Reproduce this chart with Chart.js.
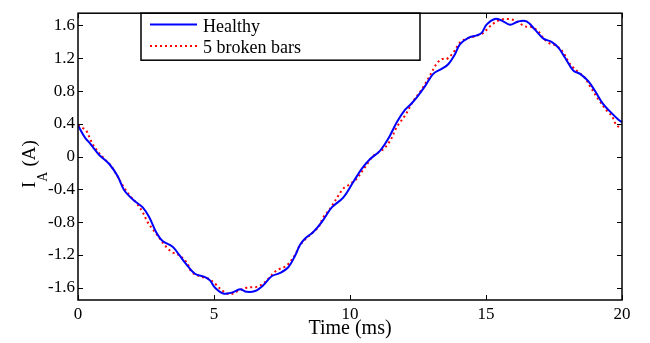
<!DOCTYPE html>
<html>
<head>
<meta charset="utf-8">
<script src="https://cdn.jsdelivr.net/npm/chart.js@4"></script>
<style>
  html, body { margin: 0; padding: 0; background: #fff; }
</style>
</head>
<body>
<canvas id="myChart" width="650" height="343"></canvas>
<script>
// healthy motor current (ms, A)
const timeHealthy = [0.0, 0.26, 0.42, 0.56, 0.78, 1.15, 1.46, 1.70, 2.07, 2.38, 2.62, 2.87, 3.11, 3.48, 3.72, 3.97,
  4.30, 4.67, 4.85, 5.04, 5.34, 5.65, 5.96, 6.20, 6.51, 6.81, 7.12, 7.43, 7.73, 7.98, 8.16, 8.35,
  8.65, 8.96, 9.33, 9.75, 10.12, 10.43, 10.74, 11.10, 11.41, 11.72, 12.02, 12.21, 12.45, 12.76, 13.06, 13.37,
  13.62, 13.86, 14.04, 14.35, 14.66, 14.84, 15.02, 15.33, 15.58, 15.88, 16.19, 16.49, 16.80, 17.11, 17.41,
  17.66, 17.90, 18.21, 18.46, 18.76, 19.01, 19.31, 19.62, 19.87, 20.0];
const currentHealthy = [0.38, 0.23, 0.17, 0.11, 0.02, -0.09, -0.24, -0.41, -0.54, -0.62, -0.74, -0.92, -1.03, -1.10, -1.20, -1.31,
  -1.43, -1.47, -1.51, -1.60, -1.67, -1.66, -1.62, -1.65, -1.64, -1.57, -1.46, -1.42, -1.35, -1.21, -1.08, -1.00,
  -0.92, -0.80, -0.62, -0.50, -0.31, -0.15, -0.03, 0.07, 0.22, 0.42, 0.57, 0.63, 0.72, 0.86, 1.01, 1.07,
  1.13, 1.25, 1.37, 1.45, 1.48, 1.51, 1.61, 1.68, 1.66, 1.61, 1.65, 1.65, 1.55, 1.44, 1.40,
  1.33, 1.21, 1.05, 1.01, 0.92, 0.80, 0.64, 0.53, 0.45, 0.42];

// 5 broken bars current (ms, A)
const timeBroken = [0.0, 0.29, 0.48, 0.66, 1.03, 1.21, 1.40, 1.64, 1.89, 2.13, 2.38, 2.56, 2.87, 3.24, 3.48, 3.60,
  3.85, 4.03, 4.18, 4.55, 4.79, 5.10, 5.28, 5.59, 5.89, 6.20, 6.57, 6.81, 7.00, 7.30, 7.67, 7.98,
  8.16, 8.65, 8.84, 9.02, 9.26, 9.75, 9.94, 10.24, 10.55, 10.86, 11.22, 11.47, 11.72, 12.02, 12.33, 12.64,
  12.94, 13.18, 13.37, 13.55, 13.80, 14.04, 14.29, 14.60, 14.90, 15.15, 15.45, 15.76, 16.07, 16.43, 16.68,
  16.92, 17.05, 17.29, 17.60, 17.84, 18.09, 18.40, 18.64, 18.82, 19.13, 19.44, 19.62, 19.80, 19.93];
const currentBroken = [0.38, 0.32, 0.19, 0.09, -0.05, -0.11, -0.21, -0.35, -0.47, -0.56, -0.68, -0.80, -0.94, -1.10, -1.17, -1.18,
  -1.24, -1.31, -1.41, -1.47, -1.49, -1.57, -1.63, -1.68, -1.64, -1.60, -1.59, -1.55, -1.49, -1.39, -1.33, -1.20,
  -1.08, -0.92, -0.86, -0.74, -0.64, -0.39, -0.35, -0.27, -0.13, 0.01, 0.09, 0.19, 0.36, 0.50, 0.68, 0.82,
  0.99, 1.13, 1.19, 1.19, 1.27, 1.39, 1.44, 1.47, 1.51, 1.59, 1.66, 1.68, 1.66, 1.59, 1.58,
  1.53, 1.47, 1.39, 1.35, 1.27, 1.13, 1.03, 0.96, 0.86, 0.70, 0.56, 0.50, 0.38, 0.36];

const seriesLabels = ['Healthy', '5 broken bars'];
const xTicks = [0, 5, 10, 15, 20];
const yTicks = [-1.6, -1.2, -0.8, -0.4, 0, 0.4, 0.8, 1.2, 1.6];

const serif = "'Liberation Serif', 'Times New Roman', serif";

const toPoints = (xs, ys) => xs.map((t, i) => ({ x: t, y: ys[i] }));

// 축 박스, 안쪽 눈금, 범례, 축 제목
const framePlugin = {
  id: 'frame',
  afterDraw(chart) {
    const { ctx, chartArea: a, scales: { x, y } } = chart;
    ctx.save();
    ctx.strokeStyle = '#000';
    ctx.lineWidth = 1;
    ctx.beginPath();
    xTicks.forEach(v => {
      const px = Math.round(x.getPixelForValue(v)) + 0.5;
      ctx.moveTo(px, a.bottom); ctx.lineTo(px, a.bottom - 5);
      ctx.moveTo(px, a.top); ctx.lineTo(px, a.top + 5);
    });
    yTicks.forEach(v => {
      const py = Math.round(y.getPixelForValue(v)) + 0.5;
      ctx.moveTo(a.left, py); ctx.lineTo(a.left + 5, py);
      ctx.moveTo(a.right, py); ctx.lineTo(a.right - 5, py);
    });
    ctx.stroke();

    // legend box
    const lx = 141, ly = a.top, lw = 279, lh = 47;
    ctx.fillStyle = '#fff';
    ctx.fillRect(lx, ly, lw, lh);
    ctx.lineWidth = 1.5;
    ctx.strokeRect(lx, ly, lw, lh);

    const ds = chart.data.datasets;
    const rows = [24.5, 46];
    rows.forEach((ry, i) => {
      ctx.beginPath();
      ctx.strokeStyle = ds[i].borderColor;
      ctx.lineWidth = 2;
      ctx.setLineDash(ds[i].borderDash || []);
      ctx.moveTo(150, ry); ctx.lineTo(197, ry);
      ctx.stroke();
    });
    ctx.setLineDash([]);
    ctx.fillStyle = '#000';
    ctx.font = '18px ' + serif;
    ctx.textBaseline = 'alphabetic';
    ctx.textAlign = 'left';
    ctx.fillText(ds[0].label, 203, 31.5);
    ctx.fillText(ds[1].label, 203, 53);

    // plot frame
    ctx.strokeStyle = '#000';
    ctx.lineWidth = 1.5;
    ctx.strokeRect(a.left, a.top, a.width, a.height);

    // x title
    ctx.font = '20px ' + serif;
    ctx.textAlign = 'center';
    ctx.fillText('Time (ms)', (a.left + a.right) / 2, 334);

    // y title I_A (A)
    ctx.translate(35, 188);
    ctx.rotate(-Math.PI / 2);
    ctx.textAlign = 'left';
    ctx.font = '19px ' + serif;
    ctx.fillText('I', 0, 0);
    const w1 = ctx.measureText('I').width;
    ctx.font = '14px ' + serif;
    ctx.fillText('A', w1, 12);
    const w2 = ctx.measureText('A').width;
    ctx.font = '19px ' + serif;
    ctx.fillText('(A)', w1 + w2 + 5, 0);
    ctx.restore();
  }
};

const ctx = document.getElementById('myChart').getContext('2d');
const myChart = new Chart(ctx, {
  type: 'line',
  data: {
    datasets: [{
      label: seriesLabels[0],
      data: toPoints(timeHealthy, currentHealthy),
      borderColor: 'rgb(0, 0, 255)',
      borderWidth: 2,
      pointRadius: 0,
      tension: 0.35,
      fill: false
    }, {
      label: seriesLabels[1],
      data: toPoints(timeBroken, currentBroken),
      borderColor: 'rgb(255, 0, 0)',
      borderWidth: 2,
      borderDash: [2, 3],
      pointRadius: 0,
      tension: 0.35,
      fill: false
    }]
  },
  options: {
    responsive: false,
    animation: false,
    layout: { padding: { left: 0, top: 12, right: 28, bottom: 0 } },
    plugins: { legend: { display: false }, tooltip: { enabled: false } },
    scales: {
      x: {
        type: 'linear',
        min: 0,
        max: 20,
        afterBuildTicks: s => { s.ticks = xTicks.map(v => ({ value: v })); },
        afterFit: s => { s.height = 43; },
        grid: { display: false, drawTicks: false },
        border: { display: false },
        ticks: {
          padding: 4,
          maxRotation: 0,
          color: '#000',
          font: { family: serif, size: 17 },
          callback: v => String(v)
        }
      },
      y: {
        min: -1.75,
        max: 1.75,
        afterBuildTicks: s => { s.ticks = yTicks.map(v => ({ value: v })); },
        afterFit: s => { s.width = 78; },
        grid: { display: false, drawTicks: false },
        border: { display: false },
        ticks: {
          padding: 3,
          color: '#000',
          font: { family: serif, size: 17 },
          callback: v => String(Math.round(v * 10) / 10)
        }
      }
    }
  },
  plugins: [framePlugin]
});
</script>
</body>
</html>
